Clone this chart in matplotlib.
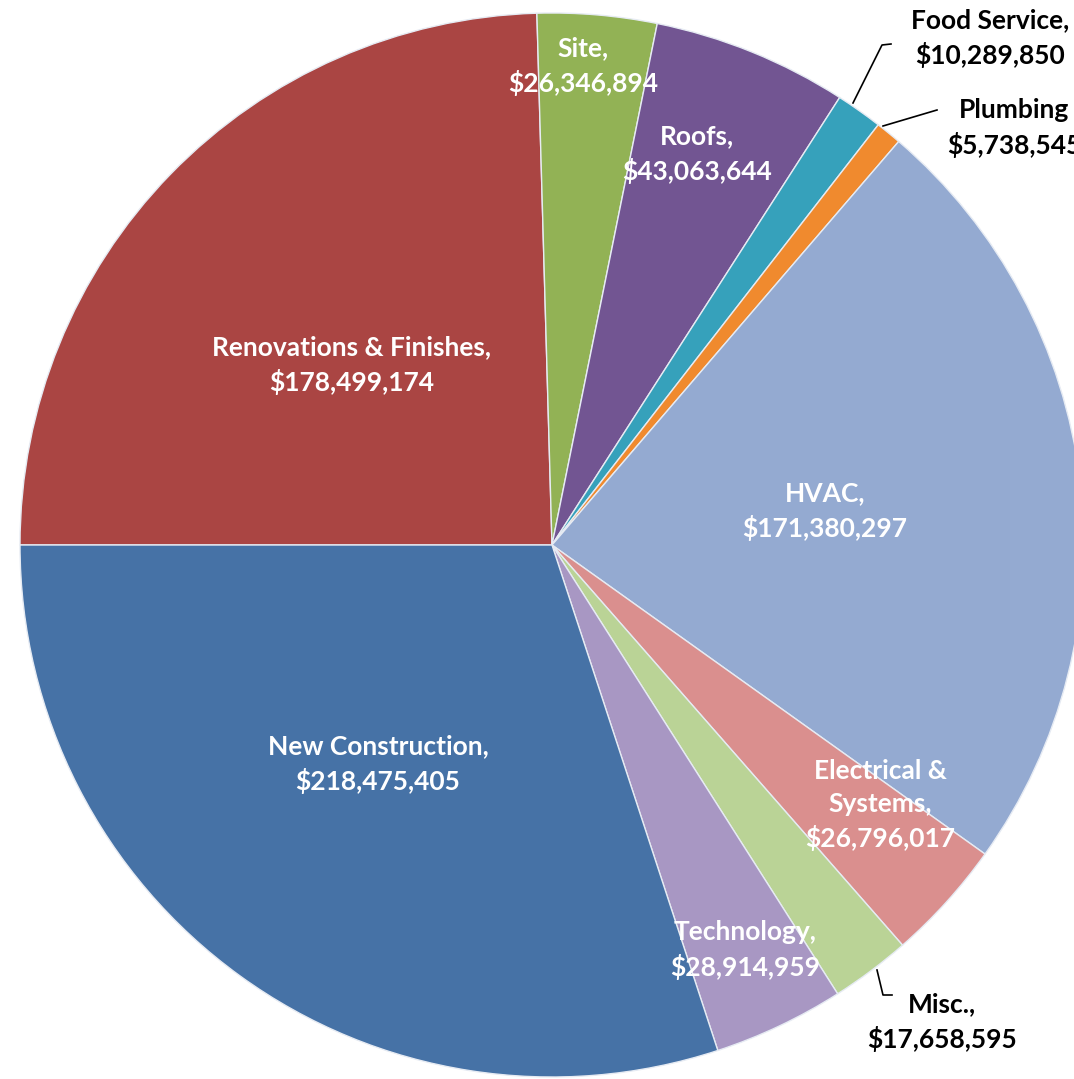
import numpy as np
import matplotlib
matplotlib.use('Agg')
import matplotlib.pyplot as plt

# slices, clockwise from 9 o'clock
categories = ["Renovations & Finishes", "Site", "Roofs", "Food Service", "Plumbing",
              "HVAC", "Electrical &\nSystems", "Misc.", "Technology", "New Construction"]
amounts = [178499174, 26346894, 43063644, 10289850, 5738545,
           171380297, 26796017, 17658595, 28914959, 218475405]
colours = ["#AA4543", "#92B255", "#725592", "#36A1BB", "#F08A2E",
           "#94AAD1", "#DA8F8E", "#BAD396", "#A897C3", "#4672A6"]

# label layout in pixel coords (x, y from top), text colour, leader line
label_pos = [(352, 365), (583, 66), (697, 154), (990, 38), (947, 128),
             (825, 511), (880, 805), (942, 1022), (745, 950), (378, 764)]
label_ha = ["center"] * 4 + ["left"] + ["center"] * 5
outside = [False, False, False, True, True, False, False, True, False, False]
leaders = {3: [(853, 103), (882, 45), (891, 44)],
           4: [(883, 126), (937, 110)],
           7: [(877, 970), (883, 995), (892, 995)]}

W, H = 1074, 1079
cx, cy, R = 552, 545, 532

fig = plt.figure(figsize=(W / 100, H / 100), dpi=100)
ax = fig.add_axes([0, 0, 1, 1])
ax.pie(amounts, colors=colours, startangle=180, counterclock=False,
       center=(cx, H - cy), radius=R,
       wedgeprops=dict(edgecolor="#e6ebf3", linewidth=1.0))
ax.set_xlim(0, W)
ax.set_ylim(0, H)
ax.set_aspect("equal")
ax.axis("off")

for i, name in enumerate(categories):
    sep = "\n" if name == "Plumbing" else ",\n"
    txt = name + sep + "${:,}".format(amounts[i])
    x, y = label_pos[i]
    ax.text(x, H - y, txt, ha=label_ha[i], va="center", multialignment="center",
            color="black" if outside[i] else "white", fontsize=19,
            fontweight="bold", family=["Lato", "DejaVu Sans"], linespacing=1.45)

for i, pts in leaders.items():
    xs = [p[0] for p in pts]
    ys = [H - p[1] for p in pts]
    ax.plot(xs, ys, color="black", lw=1.2)

fig.savefig("out.png", dpi=100)
